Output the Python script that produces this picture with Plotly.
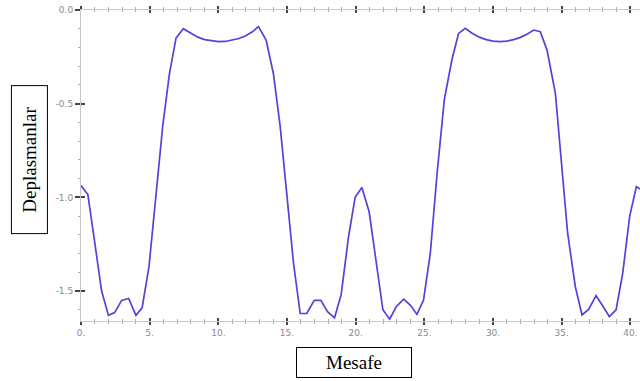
import plotly.graph_objects as go

# Data
mesafe = [0.0, 0.5, 1.0, 1.5, 2.0, 2.45, 2.96, 3.47, 4.0, 4.45, 4.95, 5.45, 5.95, 6.44, 6.92, 7.45,
          8.0, 8.5, 9.0, 9.5, 10.0, 10.5, 11.0, 11.5, 12.0, 12.5, 12.92, 13.48, 14.01, 14.5, 14.98,
          15.47, 15.96, 16.44, 16.98, 17.46, 17.95, 18.46, 18.94, 19.48, 19.96, 20.45, 20.98, 21.48,
          21.98, 22.47, 22.95, 23.49, 23.97, 24.46, 24.94, 25.43, 25.93, 26.45, 27.0, 27.49, 27.98,
          28.5, 29.0, 29.5, 30.0, 30.5, 31.0, 31.5, 32.0, 32.5, 32.96, 33.44, 33.93, 34.54, 34.98,
          35.43, 35.99, 36.48, 36.96, 37.5, 37.98, 38.47, 38.96, 39.44, 39.95, 40.44, 40.7]
deplasman = [-0.937, -0.985, -1.24, -1.50, -1.63, -1.615, -1.55, -1.54, -1.63, -1.59, -1.37, -1.00,
             -0.62, -0.34, -0.15, -0.10, -0.125, -0.145, -0.158, -0.165, -0.169, -0.168, -0.162,
             -0.152, -0.137, -0.115, -0.089, -0.16, -0.34, -0.62, -0.98, -1.35, -1.62, -1.62, -1.55,
             -1.55, -1.61, -1.643, -1.52, -1.21, -1.00, -0.947, -1.077, -1.34, -1.60, -1.65, -1.584,
             -1.543, -1.575, -1.625, -1.548, -1.30, -0.87, -0.48, -0.267, -0.125, -0.098, -0.125,
             -0.145, -0.158, -0.166, -0.169, -0.166, -0.158, -0.146, -0.128, -0.107, -0.116, -0.214,
             -0.445, -0.81, -1.19, -1.477, -1.628, -1.598, -1.525, -1.579, -1.637, -1.60, -1.406,
             -1.10, -0.943, -0.955]

x_tickvals = [0, 5, 10, 15, 20, 25, 30, 35, 40]
x_ticktext = ["0.", "5.", "10.", "15.", "20.", "25.", "30.", "35.", "40."]
y_tickvals = [0.0, -0.5, -1.0, -1.5]
y_ticktext = ["0.0", "-0.5", "-1.0", "-1.5"]

x_title = "Mesafe"
y_title = "Deplasmanlar"

fig = go.Figure()
fig.add_trace(go.Scatter(x=mesafe, y=deplasman, mode="lines",
                         line=dict(color="#5a3fd8", width=1.7), showlegend=False))

tickfont = dict(family="DejaVu Sans", size=9, color="#8a8a8a")
fig.update_layout(
    width=640, height=381,
    margin=dict(l=81, r=0, t=10, b=60),
    paper_bgcolor="white", plot_bgcolor="white",
    xaxis=dict(range=[0, 40.7], showgrid=False, zeroline=False, automargin=False,
               showline=True, linecolor="#c8c8c8", linewidth=1, mirror="ticks",
               ticks="outside", ticklen=3, tickwidth=1.5, tickcolor="#444",
               tickvals=x_tickvals, ticktext=x_ticktext, tickfont=tickfont,
               minor=dict(dtick=1, ticks="outside", ticklen=2, tickcolor="#aaa", tickwidth=1)),
    yaxis=dict(range=[-1.66, 0.0], showgrid=False, zeroline=False, automargin=False,
               showline=True, linecolor="#c8c8c8", linewidth=1,
               ticks="outside", ticklen=5, tickwidth=1.5, tickcolor="#444",
               tickvals=y_tickvals, ticktext=y_ticktext, tickfont=tickfont,
               minor=dict(dtick=0.1, tick0=0, ticks="outside", ticklen=2, tickcolor="#aaa", tickwidth=1)),
    xaxis2=dict(range=[0, 40.7], overlaying="x", anchor="y", side="bottom", automargin=False,
                showgrid=False, zeroline=False, showline=False, mirror="ticks",
                ticks="inside", ticklen=3, tickwidth=1.5, tickcolor="#444",
                tickvals=x_tickvals, showticklabels=False,
                minor=dict(dtick=1, ticks="inside", ticklen=2, tickcolor="#aaa", tickwidth=1)),
    yaxis2=dict(range=[-1.66, 0.0], overlaying="y", anchor="x", side="left", automargin=False,
                showgrid=False, zeroline=False, showline=False,
                ticks="inside", ticklen=4, tickwidth=1.5, tickcolor="#444",
                tickvals=y_tickvals, showticklabels=False),
    annotations=[
        dict(text=x_title, xref="paper", yref="paper", x=0.489, y=-0.1334,
             xanchor="center", yanchor="middle", showarrow=False,
             font=dict(family="Liberation Serif", size=19, color="black"),
             width=114, height=29, bordercolor="black", borderwidth=1, borderpad=0,
             bgcolor="white"),
        dict(text=y_title, xref="paper", yref="paper", x=-0.0921, y=0.519,
             xanchor="center", yanchor="middle", showarrow=False, textangle=-90,
             font=dict(family="Liberation Serif", size=19, color="black"),
             width=147, height=35, bordercolor="black", borderwidth=1, borderpad=0,
             bgcolor="white"),
    ],
)
# reference trace for overlay axes (same data, invisible) so the crossing ticks are drawn
fig.add_trace(go.Scatter(x=mesafe, y=deplasman, xaxis="x2", yaxis="y2", mode="lines",
                         line=dict(color="rgba(0,0,0,0)", width=0), hoverinfo="skip",
                         showlegend=False))

post = ("document.body.style.margin='0';document.body.style.overflow='hidden';"
        "Plotly.relayout(document.getElementById('{plot_id}'), {width: 640, height: 381});")
fig.write_html("out.html", config={"responsive": False, "displayModeBar": False}, post_script=post)
